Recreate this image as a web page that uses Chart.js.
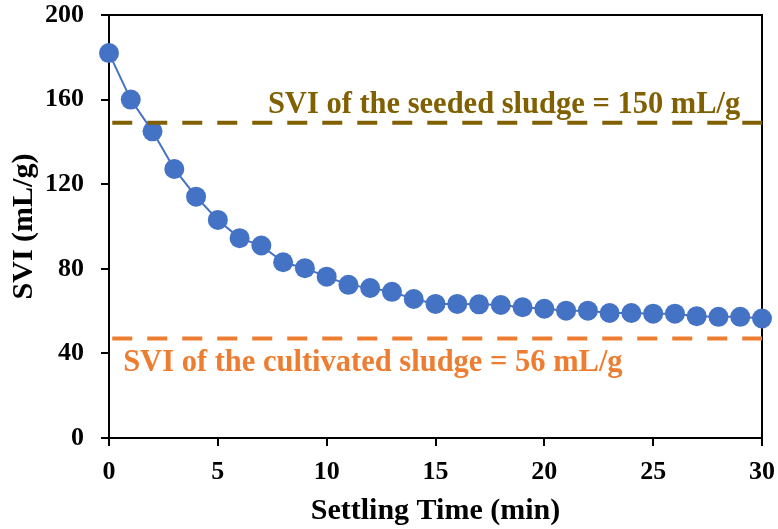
<!DOCTYPE html>
<html>
<head>
<meta charset="utf-8">
<script src="https://cdn.jsdelivr.net/npm/chart.js@4/dist/chart.umd.min.js"></script>
<style>
  html, body { margin: 0; padding: 0; background: #fff; }
  #wrap { width: 778px; height: 529px; }
</style>
</head>
<body>
<div id="wrap"><canvas id="myChart"></canvas></div>
<script>
// Settling time (min) and SVI (mL/g)
const settlingTime = [0, 1, 2, 3, 4, 5, 6, 7, 8, 9, 10, 11, 12, 13, 14, 15, 16, 17, 18, 19, 20,
    21, 22, 23, 24, 25, 26, 27, 28, 29, 30];
const sviValues = [182, 160, 145, 127.2, 114.1, 103.1, 94.5, 91, 83.1, 80.3, 76.3, 72.4, 70.9, 69.1, 65.7,
    63.4, 63.4, 63.2, 62.9, 61.8, 61.1, 60.2, 60.2, 59.1, 59.1, 58.8, 58.8, 57.6, 57.3, 57.3, 56.5];

// Reference lines
const refLineX = [0.15, 30];
const seededSvi = 149;
const cultivatedSvi = 47;

const xTicks = [0, 5, 10, 15, 20, 25, 30];
const yTicks = [0, 40, 80, 120, 160, 200];

const serif = "'Liberation Serif', 'Times New Roman', serif";

// Frame round the plot area (drawn under the marks)
const framePlugin = {
    id: 'frame',
    beforeDatasetsDraw(chart) {
        const { ctx, chartArea: a } = chart;
        ctx.save();
        ctx.strokeStyle = '#000';
        ctx.lineWidth = 2;
        ctx.strokeRect(a.left, a.top, a.right - a.left, a.bottom - a.top);
        ctx.restore();
    }
};

// Labels for the two dashed lines
const labelPlugin = {
    id: 'refLabels',
    afterDatasetsDraw(chart) {
        const { ctx, scales: { x, y } } = chart;
        ctx.save();
        ctx.font = 'bold 30.5px ' + serif;
        ctx.textBaseline = 'alphabetic';
        ctx.textAlign = 'left';
        ctx.fillStyle = '#806000';
        ctx.fillText('SVI of the seeded sludge = 150 mL/g', x.getPixelForValue(7.3), y.getPixelForValue(153.6));
        ctx.fillStyle = '#ED7D31';
        ctx.fillText('SVI of the cultivated sludge = 56 mL/g', x.getPixelForValue(0.65), y.getPixelForValue(31.8));
        ctx.restore();
    }
};

const data = {
    datasets: [
        {
            label: 'seeded',
            data: refLineX.map(v => ({ x: v, y: seededSvi })),
            borderColor: '#806000',
            borderWidth: 4,
            borderDash: [20, 15],
            pointRadius: 0,
            order: 0,
        },
        {
            label: 'cultivated',
            data: refLineX.map(v => ({ x: v, y: cultivatedSvi })),
            borderColor: '#ED7D31',
            borderWidth: 4,
            borderDash: [20, 15],
            pointRadius: 0,
            order: 0,
        },
        {
            label: 'SVI',
            data: settlingTime.map((t, i) => ({ x: t, y: sviValues[i] })),
            borderColor: '#4472C4',
            backgroundColor: '#4472C4',
            borderWidth: 2,
            pointRadius: 10,
            pointBorderWidth: 0,
            clip: false,
            order: 1,
        },
    ],
};

const config = {
    type: 'line',
    data: data,
    plugins: [framePlugin, labelPlugin],
    options: {
        responsive: true,
        maintainAspectRatio: false,
        animation: false,
        layout: { padding: { top: 15, right: 16, left: 0, bottom: 0 } },
        plugins: {
            legend: { display: false },
            tooltip: { enabled: false },
        },
        scales: {
            x: {
                type: 'linear',
                min: 0,
                max: 30,
                afterBuildTicks: (s) => { s.ticks = xTicks.map(v => ({ value: v })); },
                afterFit: (s) => { s.height = 91; s.paddingLeft = 0; s.paddingRight = 0; },
                grid: { display: true, drawOnChartArea: false, drawTicks: true, tickLength: 8, color: '#000', lineWidth: 2 },
                border: { color: '#000', width: 2 },
                ticks: { color: '#000', padding: 11, font: { family: serif, size: 26, weight: 'bold' } },
                title: {
                    display: true,
                    text: 'Settling Time (min)',
                    color: '#000',
                    padding: { top: 0, bottom: 0 },
                    font: { family: serif, size: 30, weight: 'bold' },
                },
            },
            y: {
                min: 0,
                max: 200,
                afterBuildTicks: (s) => { s.ticks = yTicks.map(v => ({ value: v })); },
                afterFit: (s) => { s.width = 109; s.paddingTop = 0; s.paddingBottom = 0; },
                grid: { display: true, drawOnChartArea: false, drawTicks: true, tickLength: 8, color: '#000', lineWidth: 2 },
                border: { color: '#000', width: 2 },
                ticks: { color: '#000', padding: 17, font: { family: serif, size: 26, weight: 'bold' } },
                title: {
                    display: true,
                    text: 'SVI (mL/g)',
                    color: '#000',
                    padding: { top: 6, bottom: 0 },
                    font: { family: serif, size: 30, weight: 'bold' },
                },
            },
        },
    },
};

const ctx = document.getElementById('myChart').getContext('2d');
const myChart = new Chart(ctx, config);
</script>
</body>
</html>
